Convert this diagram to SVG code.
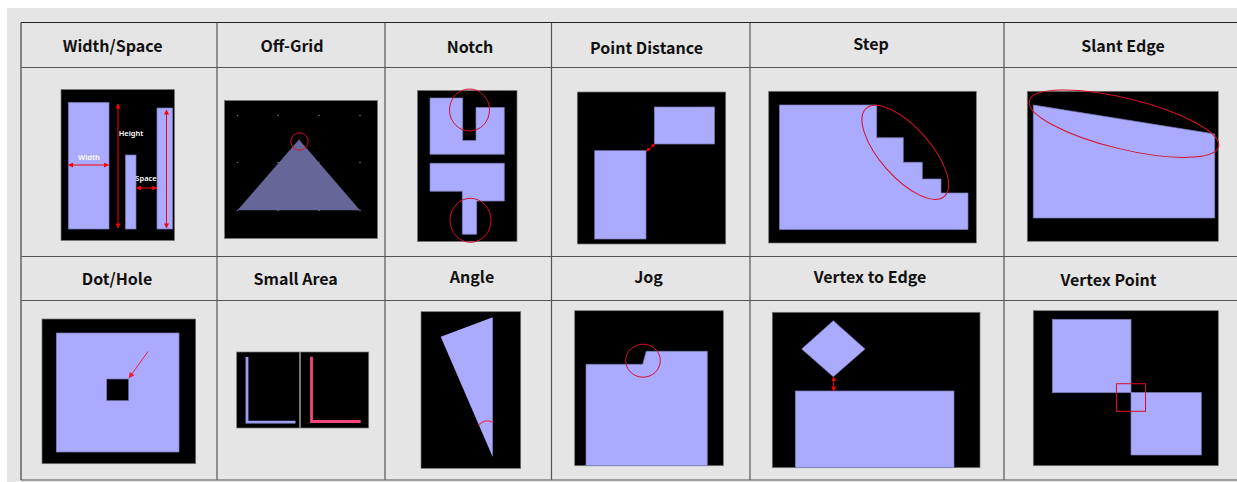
<svg xmlns="http://www.w3.org/2000/svg" width="1237" height="482" viewBox="0 0 1237 482">
<style>
.h{font-family:"Noto Sans CJK KR","Noto Sans",sans-serif;font-weight:700;font-size:16px;fill:#111;text-anchor:middle}
.t{font-family:"Noto Sans","DejaVu Sans",sans-serif;font-weight:600;font-size:7.500px;fill:#fff;text-anchor:middle}
.p{fill:#000;stroke:#777;stroke-width:.7}
.s{fill:#aaaaff;stroke:#7c7cb4;stroke-width:.7}
.r{fill:none;stroke:#d80f24;stroke-width:1}
.a{fill:none;stroke:#f00;stroke-width:1;marker-start:url(#m);marker-end:url(#m)}
.b{fill:none;stroke:#d00;stroke-width:.8;marker-start:url(#n);marker-end:url(#n)}
.g{fill:none;stroke:#555;stroke-width:1.2}
.d{fill:#777}
</style>
<defs>
<marker id="m" viewBox="0 0 6 6" refX="5.500" refY="3" markerWidth="5" markerHeight="5" markerUnits="userSpaceOnUse" orient="auto-start-reverse"><path d="M0 0L6 3L0 6Z" fill="#f00"/></marker>
<marker id="n" viewBox="0 0 6 6" refX="5.500" refY="3" markerWidth="4" markerHeight="4" markerUnits="userSpaceOnUse" orient="auto-start-reverse"><path d="M0 0L6 3L0 6Z" fill="#f00"/></marker>
<marker id="e" viewBox="0 0 6 6" refX="5.500" refY="3" markerWidth="6" markerHeight="6" markerUnits="userSpaceOnUse" orient="auto"><path d="M0 0L6 3L0 6Z" fill="#f0203c"/></marker>
</defs>
<rect x="7" y="8" width="1230" height="474" fill="#e5e5e5"/>
<g id="grid">
<path class="g" d="M21.500 256.500H1237M21.500 300.500H1237M21.500 67.500H1237M21 480H1237M217 22V480M385 22V480M551.500 22V480M750 22V480M1004 22V480"/>
<path fill="none" stroke="#222" stroke-width="1" d="M21 480V22.500H1237"/>
</g>
<g id="width-space">
<text class="h" x="112.700" y="52">Width/Space</text>
<rect class="p" x="61" y="89.500" width="113.500" height="151"/>
<rect class="s" x="68.300" y="102.500" width="40.700" height="126.500"/>
<rect class="s" x="125.500" y="155" width="10.500" height="74"/>
<rect class="s" x="157" y="108" width="15.500" height="121"/>
<path class="a" d="M118 104V228"/>
<path class="a" d="M68.500 165H108.500"/>
<path class="a" d="M136.500 188H157"/>
<path class="a" d="M166.500 110V228"/>
<text class="t" x="131" y="136">Height</text>
<text class="t" x="89" y="160">Width</text>
<text class="t" x="146" y="180.500">Space</text>
</g>
<g id="off-grid">
<text class="h" x="292" y="52">Off-Grid</text>
<rect class="p" x="224.500" y="100.500" width="153" height="138"/>
<path fill="#666699" d="M237.500 210.300L299 139.500L360 210.300Z"/>
<g class="d">
<circle cx="237.500" cy="115.500" r=".8"/><circle cx="278" cy="115.500" r=".8"/><circle cx="319" cy="115.500" r=".8"/><circle cx="360" cy="115.500" r=".8"/>
<circle cx="237.500" cy="162.500" r=".8"/><circle cx="278" cy="162.500" r=".8"/><circle cx="319" cy="162.500" r=".8"/><circle cx="360" cy="162.500" r=".8"/>
<circle cx="237.500" cy="210.500" r=".8"/><circle cx="278" cy="210.500" r=".8"/><circle cx="319" cy="210.500" r=".8"/><circle cx="360" cy="210.500" r=".8"/>
</g>
<circle class="r" cx="299.500" cy="141.500" r="8.700"/>
</g>
<g id="notch">
<text class="h" x="470" y="53">Notch</text>
<rect class="p" x="417.500" y="90.500" width="99.500" height="151"/>
<path class="s" d="M430 98H462.700V140.500H476V107.500H504.300V154.300H430Z"/>
<path class="s" d="M430 163.300H504.300V201H476.700V234.300H462.300V191.300H430Z"/>
<ellipse class="r" cx="469.500" cy="110" rx="20" ry="21"/>
<ellipse class="r" cx="470.500" cy="220.300" rx="20.500" ry="22"/>
</g>
<g id="point-distance">
<text class="h" x="646.500" y="54">Point Distance</text>
<rect class="p" x="577.300" y="92" width="148.400" height="152"/>
<rect class="s" x="594.700" y="150.700" width="51.300" height="88.300"/>
<rect class="s" x="654.300" y="107" width="60.200" height="37"/>
<path class="b" d="M646.300 151L655 144"/>
</g>
<g id="step">
<text class="h" x="871" y="50">Step</text>
<rect class="p" x="768.700" y="91.300" width="207.600" height="151.700"/>
<path class="s" d="M779.500 105H876.700V137.700H903.300V162.300H922.300V179H941V193H968V229.500H779.500Z"/>
<ellipse class="r" cx="905.300" cy="152.300" rx="58.800" ry="25" transform="rotate(48.400 905.300 152.300)"/>
</g>
<g id="slant-edge">
<text class="h" x="1123" y="52">Slant Edge</text>
<rect class="p" x="1027.300" y="91.300" width="191" height="150"/>
<path class="s" d="M1033.300 105L1214.700 134V218H1033.300Z"/>
<ellipse class="r" cx="1124" cy="123.700" rx="97.400" ry="25.400" transform="rotate(13.600 1124 123.700)"/>
</g>
<g id="dot-hole">
<text class="h" x="117" y="285">Dot/Hole</text>
<rect class="p" x="42" y="319" width="153.700" height="144.700"/>
<rect class="s" x="56.300" y="333" width="122.700" height="119"/>
<rect fill="#000" stroke="#7c7cb4" stroke-width=".7" x="106.700" y="379" width="22" height="21.700"/>
<path fill="none" stroke="#f0203c" stroke-width="1" marker-end="url(#e)" d="M148 351.500L129 378"/>
</g>
<g id="small-area">
<text class="h" x="295.700" y="285">Small Area</text>
<rect class="p" x="236.700" y="352" width="132" height="76"/>
<rect fill="#777" x="299" y="352" width="2" height="76"/>
<path fill="none" stroke="#9c9cf0" stroke-width="2.800" d="M247 357V422.200H295.500"/>
<path fill="none" stroke="#f0487a" stroke-width="2.800" d="M311.500 356.700V421.500H360.700"/>
</g>
<g id="angle">
<text class="h" x="472" y="283">Angle</text>
<rect class="p" x="421" y="311.700" width="99.700" height="156.600"/>
<path fill="#aaaaff" d="M492.700 317.300L440.700 336.700L492.700 457Z"/>
<path fill="none" stroke="#f0386a" stroke-width="1.200" d="M478.700 425Q485.500 418.500 492.500 422.300"/>
</g>
<g id="jog">
<text class="h" x="648.500" y="283">Jog</text>
<rect class="p" x="574.700" y="310.700" width="148.600" height="155"/>
<path class="s" d="M586 465.700V364.300H642.700L646.300 351.300H707.300V465.700Z"/>
<ellipse class="r" cx="643" cy="360.700" rx="17.300" ry="16.500"/>
</g>
<g id="vertex-to-edge">
<text class="h" x="870" y="283">Vertex to Edge</text>
<rect class="p" x="772.300" y="312.300" width="207.700" height="155.400"/>
<path class="s" d="M833.300 320.700L865 349L833.300 376.700L801.700 349Z"/>
<rect class="s" x="795.300" y="391" width="158.700" height="76.700"/>
<path class="a" d="M833.700 376.800V391"/>
</g>
<g id="vertex-point">
<text class="h" x="1108.500" y="286">Vertex Point</text>
<rect class="p" x="1033.300" y="310.700" width="185" height="155"/>
<rect class="s" x="1052.300" y="319.300" width="78.700" height="73.400"/>
<rect class="s" x="1131" y="392.500" width="70.300" height="62.500"/>
<rect class="r" x="1116.500" y="383.700" width="29" height="27.600"/>
</g>
</svg>
